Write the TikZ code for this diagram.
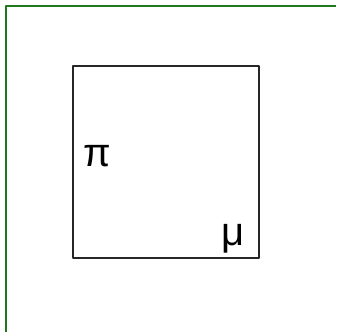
\documentclass[tikz,border=0pt]{standalone}
\usepackage{fontspec}
\setmainfont{Liberation Sans}
\definecolor{edgegreen}{RGB}{30,120,30}
\usetikzlibrary{positioning}

\begin{document}
\begin{tikzpicture}[x=1pt,y=-1pt,line join=round]
  \useasboundingbox (0,0) rectangle (337,332);
  % green frame edges
  \coordinate (tl) at (5.5,5.5);
  \coordinate (tr) at (336,5.5);
  \coordinate (bl) at (5.5,332);
  \draw[edgegreen,line width=2pt] (tr)--(tl)--(bl);
  % square
  \node[draw=black!85,line width=1.4pt,minimum width=186pt,minimum height=192pt,inner sep=0pt] (box) at (166,162) {};
  \node[anchor=base west,inner sep=0pt,font=\fontsize{40}{40}\selectfont] (pi) at (83,166) {π};
  \node[anchor=base west,inner sep=0pt,font=\fontsize{40}{40}\selectfont] (mu) at (221,245) {μ};
\end{tikzpicture}
\end{document}
